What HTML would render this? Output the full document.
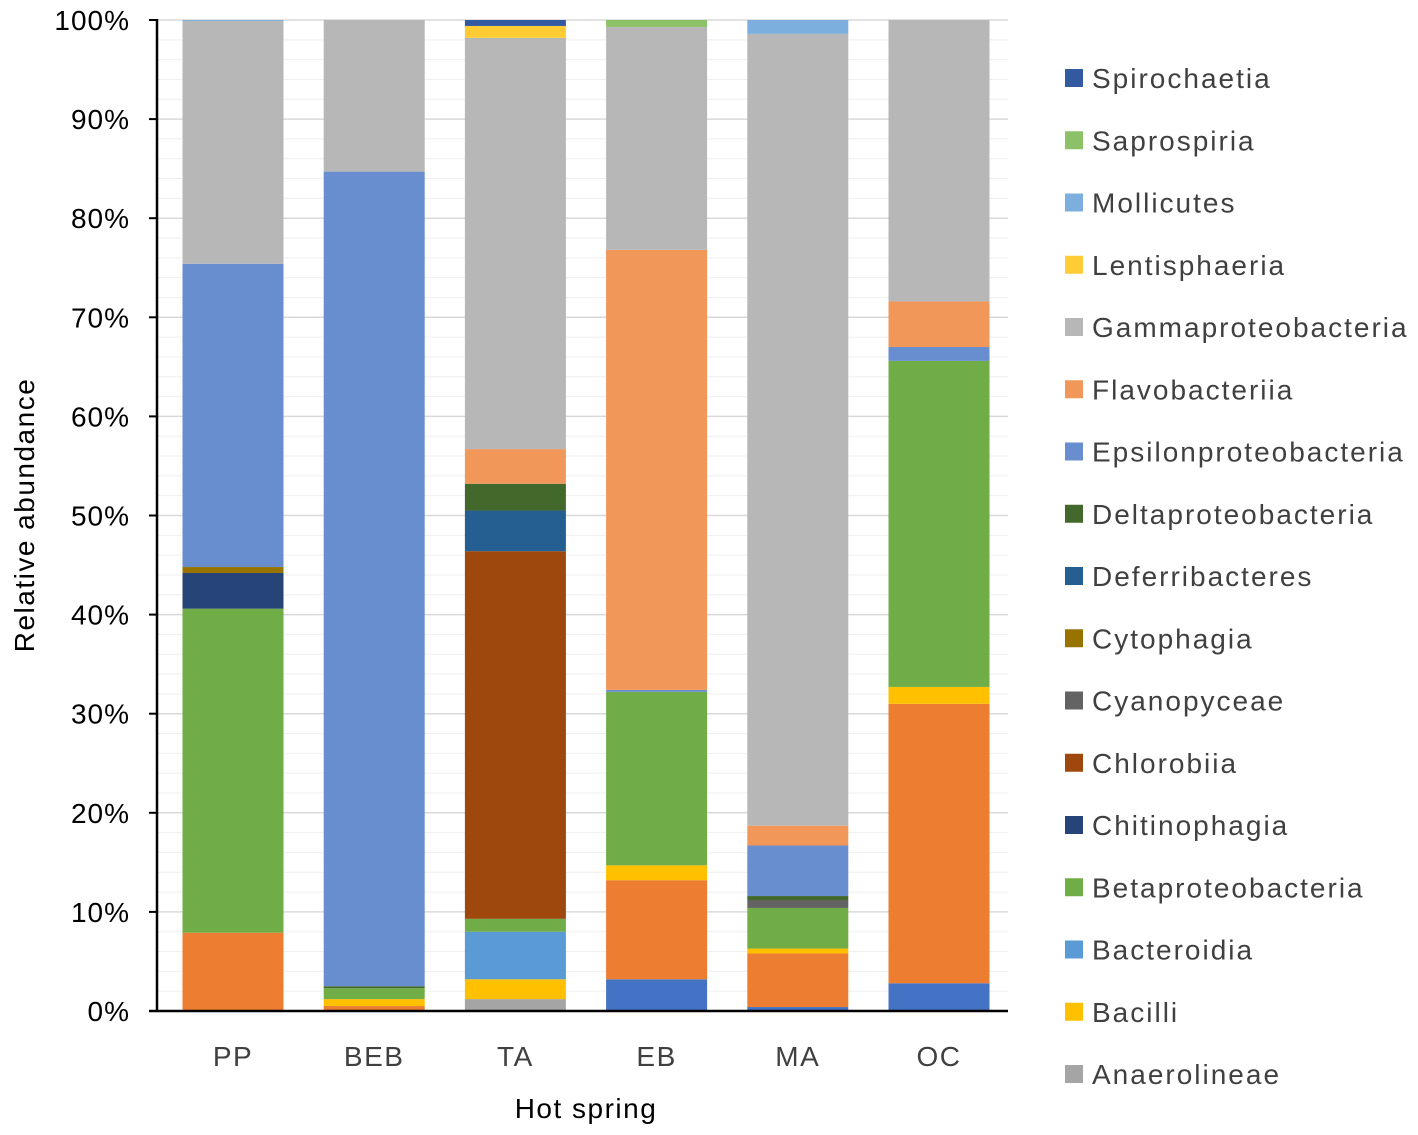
<!DOCTYPE html>
<html><head><meta charset="utf-8"><style>
body{margin:0;background:#fff;}
svg{display:block;font-family:"Liberation Sans",sans-serif;}
</style></head><body>
<svg id="chart" width="1418" height="1135" viewBox="0 0 1418 1135"></svg>
<script>
const categories=["PP","BEB","TA","EB","MA","OC"];
const seriesNames=["Actinobacteria","Alphaproteobacteria","Anaerolineae","Bacilli","Bacteroidia","Betaproteobacteria","Chitinophagia","Chlorobiia","Cyanopyceae","Cytophagia","Deferribacteres","Deltaproteobacteria","Epsilonproteobacteria","Flavobacteriia","Gammaproteobacteria","Lentisphaeria","Mollicutes","Saprospiria","Spirochaetia"];
const seriesColors=["#4472C4","#ED7D31","#A5A5A5","#FFC000","#5B9BD5","#70AD47","#264478","#9E480E","#636363","#997300","#255E91","#43682B","#698ED0","#F1975A","#B7B7B7","#FFCD33","#7CAFDD","#8CC168","#335AA1"];
const actino=[0,0,0,3.2,0.4,2.8];
const alpha=[7.9,0.5,0,10.0,5.4,28.2];
const anaero=[0,0,1.2,0,0,0];
const bacilli=[0,0.7,2.0,1.5,0.5,1.7];
const bacteroidia=[0,0,4.8,0,0,0];
const beta=[32.7,1.1,1.3,17.5,4.1,32.9];
const chitino=[3.6,0,0,0,0,0];
const chlorobiia=[0,0,37.1,0,0,0];
const cyano=[0,0,0,0,0.8,0];
const cytoph=[0.6,0,0,0,0,0];
const deferri=[0,0,4.1,0,0,0];
const delta=[0,0.2,2.7,0,0.4,0];
const epsilon=[30.6,82.2,0,0.2,5.1,1.4];
const flavo=[0,0,3.5,44.4,2.0,4.6];
const gamma=[24.5,15.3,41.5,22.5,79.9,28.4];
const lenti=[0,0,1.2,0,0,0];
const molli=[0.1,0,0,0,1.4,0];
const sapro=[0,0,0,0.7,0,0];
const spiro=[0,0,0.6,0,0,0];
const seriesValues=[actino,alpha,anaero,bacilli,bacteroidia,beta,chitino,chlorobiia,cyano,cytoph,deferri,delta,epsilon,flavo,gamma,lenti,molli,sapro,spiro];
const yTicks=[0,10,20,30,40,50,60,70,80,90,100];
const legendSeries=[18,17,16,15,14,13,12,11,10,9,8,7,6,5,4,3,2];

const NS="http://www.w3.org/2000/svg";
const svg=document.getElementById("chart");
const AX=157,X0=162.4,X1=1009.6,Y0=1011,Y1=20;
const y=v=>Y0-(v/100)*(Y0-Y1);
const step=(X1-X0)/categories.length;
const xc=i=>X0+step*(i+0.5);
const BW=101;
function mk(tag,attrs,txt){const e=document.createElementNS(NS,tag);for(const k in attrs)e.setAttribute(k,attrs[k]);if(txt!=null)e.textContent=txt;svg.appendChild(e);return e;}

for(let v=2;v<=100;v+=2){
  const g=mk("line",{x1:AX,x2:1008,y1:y(v),y2:y(v),stroke:v%10===0?"#d9d9d9":"#efefef","stroke-width":v%10===0?1.5:1});
  
  
}
categories.forEach((c,i)=>{
  let cum=0;
  seriesValues.forEach((arr,s)=>{
    const v=arr[i]; if(!v) return;
    const r=mk("rect",{x:xc(i)-BW/2,y:y(cum+v),width:BW,height:y(cum)-y(cum+v),fill:seriesColors[s]});
    
    
    cum+=v;
  });
  const t=mk("text",{x:xc(i),y:1066,"text-anchor":"middle","font-size":28,"letter-spacing":1.5,fill:"#404040"},c);
  
  
});
let ax=mk("line",{x1:AX,x2:AX,y1:Y1-1,y2:Y0+1,stroke:"#000","stroke-width":2.5});


ax=mk("line",{x1:AX-8,x2:1008,y1:Y0,y2:Y0,stroke:"#000","stroke-width":2.5});


yTicks.forEach(v=>{
  const tk=mk("line",{x1:AX-8,x2:AX,y1:y(v),y2:y(v),stroke:"#000","stroke-width":2});
  
  
  const t=mk("text",{x:130,y:y(v)+10,"text-anchor":"end","font-size":28,"letter-spacing":1,fill:"#000"},v+"%");
  
  
});
let t=mk("text",{x:0,y:0,transform:"translate(34,515) rotate(-90)","text-anchor":"middle","font-size":28,"letter-spacing":1.5,fill:"#000"},"Relative abundance");


t=mk("text",{x:586,y:1118,"text-anchor":"middle","font-size":28,"letter-spacing":1.5,fill:"#000"},"Hot spring");


legendSeries.forEach((s,k)=>{
  const ly=78+k*62.25;
  const r=mk("rect",{x:1065,y:ly-9,width:18,height:18,fill:seriesColors[s]});
  
  
  const lt=mk("text",{x:1092,y:ly+10,"font-size":28,"letter-spacing":2,fill:"#404040"},seriesNames[s]);
  
  
});
</script>
</body></html>
